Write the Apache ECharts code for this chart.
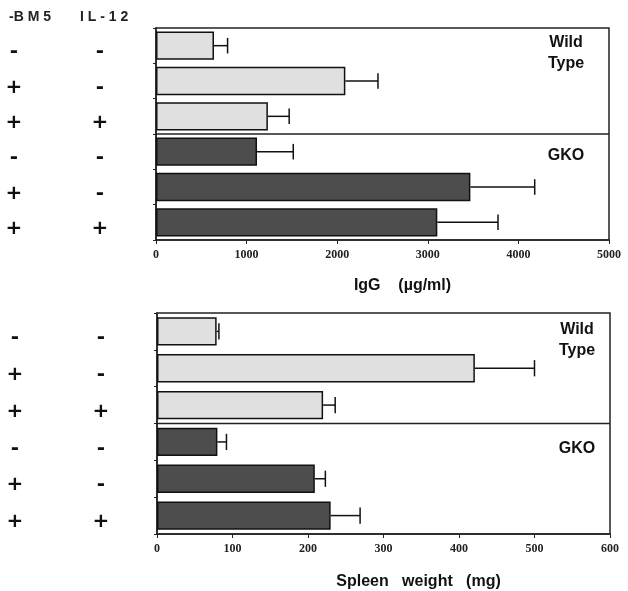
<!DOCTYPE html>
<html><head><meta charset="utf-8">
<script src="https://cdn.jsdelivr.net/npm/echarts@6/dist/echarts.min.js"></script>
<style>html,body{margin:0;padding:0;background:#fff}#c{width:628px;height:591px}</style>
</head><body><div id="c"></div>
<script>
const groups = ['WT a','WT b','WT c','GKO a','GKO b','GKO c'];
const bm5 = ['-','+','+','-','+','+'];
const il12 = ['-','-','+','-','-','+'];
const iggMean = [640, 2090, 1235, 1115, 3470, 3105];
const iggUpper = [790, 2450, 1470, 1515, 4180, 3775];
const spleenMean = [79, 421, 220, 80, 209, 230];
const spleenUpper = [82, 500, 236, 92, 223, 269];
const iggTicks = [0, 5000, 1000];
const spleenTicks = [0, 600, 100];
const dividerAfter = [2];
const lightFill = '#e0e0e0', darkFill = '#4d4d4d';

const chart = echarts.init(document.getElementById('c'), null, {renderer:'canvas'});
const signRich = {fontSize: 20, fontWeight: 'bold', fontFamily: 'DejaVu Sans', color: '#111', align:'center', width:28, padding:[13,0,0,0]};
function yAx(gi){
  return {type:'category', gridIndex: gi, data: groups, inverse: true,
    axisLine:{lineStyle:{color:'#222', width:1.5}},
    axisTick:{show:true, length:3, lineStyle:{color:'#222'}},
    axisLabel:{show:true, margin:42, align:'right',
      formatter: (v, i) => '{a|' + bm5[i] + '}{g|}{b|' + il12[i] + '}',
      rich:{a: signRich, g:{width:58}, b: signRich}},
    splitLine:{show:false}
  };
}
function xAx(gi, t, name, pad, gap){
  return {type:'value', gridIndex: gi, min:t[0], max:t[1], interval:t[2],
    axisLine:{show:true, lineStyle:{color:'#222', width:1.5}},
    axisTick:{show:true, length:4, lineStyle:{color:'#222'}},
    splitLine:{show:false},
    axisLabel:{margin:9, fontSize:12, fontWeight:'bold', fontFamily:'Liberation Serif', color:'#222', formatter:(v)=>String(v)},
    name: name, nameLocation:'middle', nameGap: gap,
    nameTextStyle:{fontSize:16, fontWeight:'bold', fontFamily:'Liberation Sans', color:'#111', padding:[0,0,0,pad]}
  };
}
function barData(vals){
  return vals.map((v,i)=>({value:v, itemStyle:{color: i<3 ? lightFill : darkFill}}));
}
function errSeries(xi, means, uppers){
  return {type:'custom', xAxisIndex:xi, yAxisIndex:xi, z:5,
    data: means.map((m,i)=>[m, uppers[i], i]),
    encode:{x:[0,1], y:2},
    renderItem:(params, api)=>{
      const p0 = api.coord([api.value(0), api.value(2)]);
      const p1 = api.coord([api.value(1), api.value(2)]);
      const h = api.size([0,1])[1]*0.44;
      const st = {stroke:'#111', lineWidth:1.5};
      return {type:'group', children:[
        {type:'line', shape:{x1:p0[0], y1:p0[1], x2:p1[0], y2:p1[1]}, style:st},
        {type:'line', shape:{x1:p1[0], y1:p1[1]-h/2, x2:p1[0], y2:p1[1]+h/2}, style:st}
      ]};
    }
  };
}
function dividerSeries(xi){
  return {type:'custom', xAxisIndex:xi, yAxisIndex:xi, z:6,
    data: dividerAfter.map(d=>[0, d]),
    encode:{x:0, y:1},
    renderItem:(params, api)=>{
      const p = api.coord([0, api.value(1)]);
      const half = api.size([0,1])[1]/2;
      const cs = params.coordSys;
      return {type:'line', shape:{x1:cs.x, y1:p[1]+half, x2:cs.x+cs.width, y2:p[1]+half},
        style:{stroke:'#222', lineWidth:1.5}};
    }
  };
}
const tStyle = {fontSize:16, fontWeight:'bold', fontFamily:'Liberation Sans', fill:'#111', textAlign:'center', lineHeight:21};
chart.setOption({
  animation:false,
  grid:[
    {left:156, right:19, top:28, bottom:351, show:true, borderColor:'#222', borderWidth:1.5},
    {left:157, right:18, top:313, bottom:53, show:true, borderColor:'#222', borderWidth:1.5}
  ],
  xAxis:[xAx(0, iggTicks, 'IgG    (µg/ml)', 40, 38), xAx(1, spleenTicks, 'Spleen   weight   (mg)', 70, 40)],
  yAxis:[yAx(0), yAx(1)],
  graphic:[
    {type:'text', left:9, top:10, style:{text:'-B M 5', fontSize:14, fontWeight:'bold', fontFamily:'Liberation Sans', fill:'#222'}},
    {type:'text', left:80, top:10, style:{text:'I L - 1 2', fontSize:14, fontWeight:'bold', fontFamily:'Liberation Sans', fill:'#222'}},
    {type:'text', x:566, y:32, style:Object.assign({text:'Wild\nType'}, tStyle)},
    {type:'text', x:566, y:145, style:Object.assign({text:'GKO'}, tStyle)},
    {type:'text', x:577, y:319, style:Object.assign({text:'Wild\nType'}, tStyle)},
    {type:'text', x:577, y:438, style:Object.assign({text:'GKO'}, tStyle)}
  ],
  series:[
    {type:'bar', xAxisIndex:0, yAxisIndex:0, data:barData(iggMean), barCategoryGap:'20%',
      itemStyle:{borderColor:'#111', borderWidth:1.5}},
    {type:'bar', xAxisIndex:1, yAxisIndex:1, data:barData(spleenMean), barCategoryGap:'23%',
      itemStyle:{borderColor:'#111', borderWidth:1.5}},
    errSeries(0, iggMean, iggUpper),
    errSeries(1, spleenMean, spleenUpper),
    dividerSeries(0),
    dividerSeries(1)
  ]
});
</script></body></html>
